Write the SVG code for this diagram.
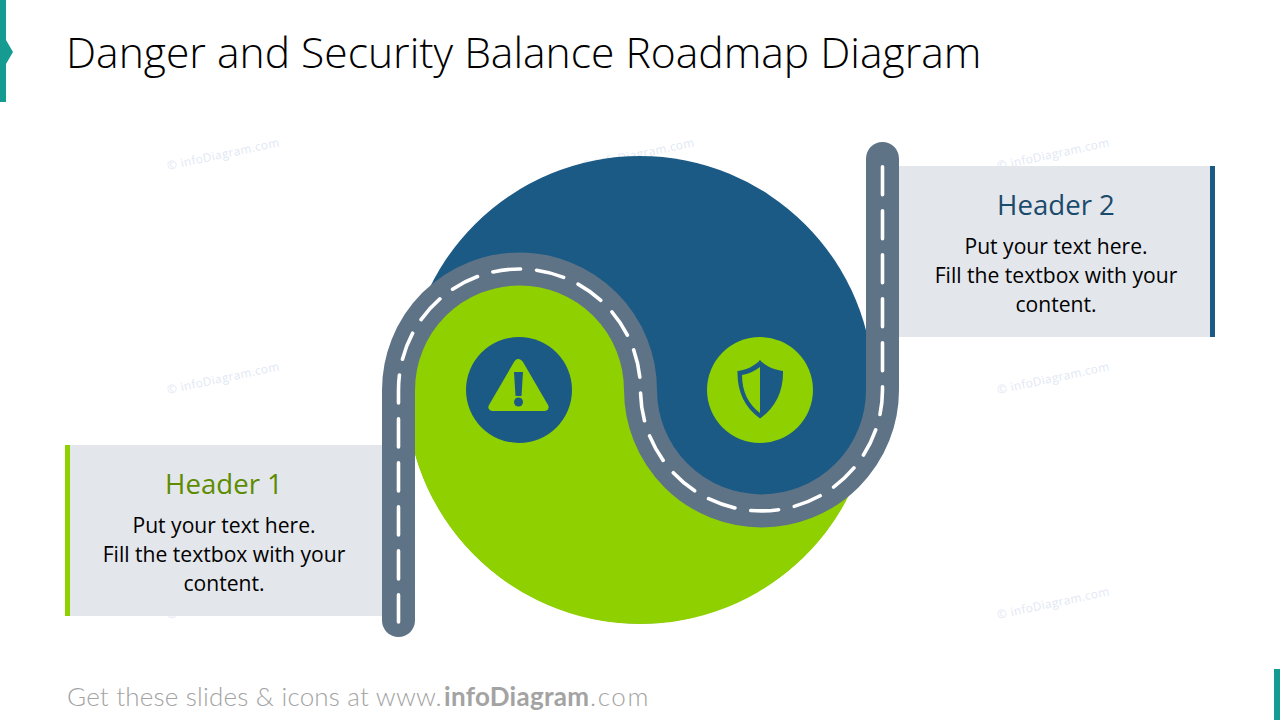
<svg xmlns="http://www.w3.org/2000/svg" width="1280" height="720" viewBox="0 0 1280 720">
<style>
text{font-family:"Open Sans","Noto Sans","Liberation Sans",sans-serif}
.wm{font-size:11.8px;fill:#dfe8f4;letter-spacing:.4px}
.hd{font-size:27.6px;text-anchor:middle}
.bd{font-size:21.1px;text-anchor:middle;fill:#000}
.road{fill:none;stroke:#5f7387;stroke-width:33;stroke-linecap:round}
.dash{fill:none;stroke:#fff;stroke-width:3.6;stroke-linecap:round;stroke-dasharray:28 16}
</style>
<rect width="1280" height="720" fill="#fff"/>
<g id="watermarks">
<text class="wm" transform="translate(168 170) rotate(-12)">© infoDiagram.com</text>
<text class="wm" transform="translate(583 170) rotate(-12)">© infoDiagram.com</text>
<text class="wm" transform="translate(998 170) rotate(-12)">© infoDiagram.com</text>
<text class="wm" transform="translate(168 394) rotate(-12)">© infoDiagram.com</text>
<text class="wm" transform="translate(998 394) rotate(-12)">© infoDiagram.com</text>
<text class="wm" transform="translate(168 619) rotate(-12)">© infoDiagram.com</text>
<text class="wm" transform="translate(998 619) rotate(-12)">© infoDiagram.com</text>
</g>
<g id="accent">
<path d="M0 0H6V40L13 52L6 64V102H0Z" fill="#169b93"/>
<rect x="1274" y="669" width="6" height="51" fill="#169b93"/>
</g>
<text x="66" y="68" font-size="42.6" font-weight="300" fill="#000">Danger and Security Balance Roadmap Diagram</text>
<g id="yin-yang">
<circle cx="640" cy="389.700" r="233.700" fill="#1b5a85"/>
<path d="M413.700 330.400A121 121 0 0 1 640 390A121 121 0 0 0 866.300 449.600A233.700 233.700 0 1 1 413.700 330.400Z" fill="#8fd000"/>
</g>
<g id="node-1">
<rect x="65" y="445" width="320" height="171" fill="#e3e6eb"/>
<rect x="65" y="445" width="5" height="171" fill="#8fd000"/>
<text class="hd" x="224" y="494" fill="#5e8c00">Header 1</text>
<text class="bd" x="224" y="533">Put your text here.</text>
<text class="bd" x="224" y="562">Fill the textbox with your</text>
<text class="bd" x="224" y="591">content.</text>
</g>
<g id="node-2">
<rect x="895" y="166" width="320" height="171" fill="#e3e6eb"/>
<rect x="1210" y="166" width="5" height="171" fill="#1b5a85"/>
<text class="hd" x="1056" y="215" fill="#1a4a6c">Header 2</text>
<text class="bd" x="1056" y="254">Put your text here.</text>
<text class="bd" x="1056" y="283">Fill the textbox with your</text>
<text class="bd" x="1056" y="312">content.</text>
</g>
<g id="connectors">
<path class="road" d="M398.500 620.500V390A121 121 0 0 1 640.500 390A121 121 0 0 0 882.500 390V158.500"/>
<path class="dash" d="M882.500 166.700V390A121 121 0 0 1 640.500 390A121 121 0 0 0 398.500 390V622"/>
</g>
<g id="icon-danger">
<circle cx="519" cy="390" r="53" fill="#1b5a85"/>
<path d="M518 359C516 359 515 360.500 514 362L489 405C487.500 408 489 411 492 411H545C548 411 549.500 408 548 405L523 362C522 360.500 520.500 359 518 359Z" fill="#8fd000"/>
<path d="M514 372H523L521.500 396H515.500Z" fill="#1b5a85"/>
<circle cx="518.500" cy="402" r="4.500" fill="#1b5a85"/>
</g>
<g id="icon-security">
<circle cx="760" cy="390" r="53" fill="#8fd000"/>
<path d="M760 360C755 366 746 370 737.500 371C737 392 745 408 760 418.500C775 408 783.500 392 783 371C774 370 765 366 760 360Z" fill="#1b5a85"/>
<path d="M760 367C755 371 748 374 742 375C742 391 748 404 760 413Z" fill="#8fd000"/>
</g>
<g id="footer" style="font-size:26px">
<text y="706" fill="#a3a3a3" style="font-family:Lato,'Liberation Sans',sans-serif"><tspan x="67" font-weight="300" letter-spacing=".2">Get these slides &amp; icons at www.</tspan><tspan x="444" font-weight="700" letter-spacing=".3">infoDiagram</tspan><tspan x="590" font-weight="300" letter-spacing="1.6">.com</tspan></text>
</g>
</svg>
